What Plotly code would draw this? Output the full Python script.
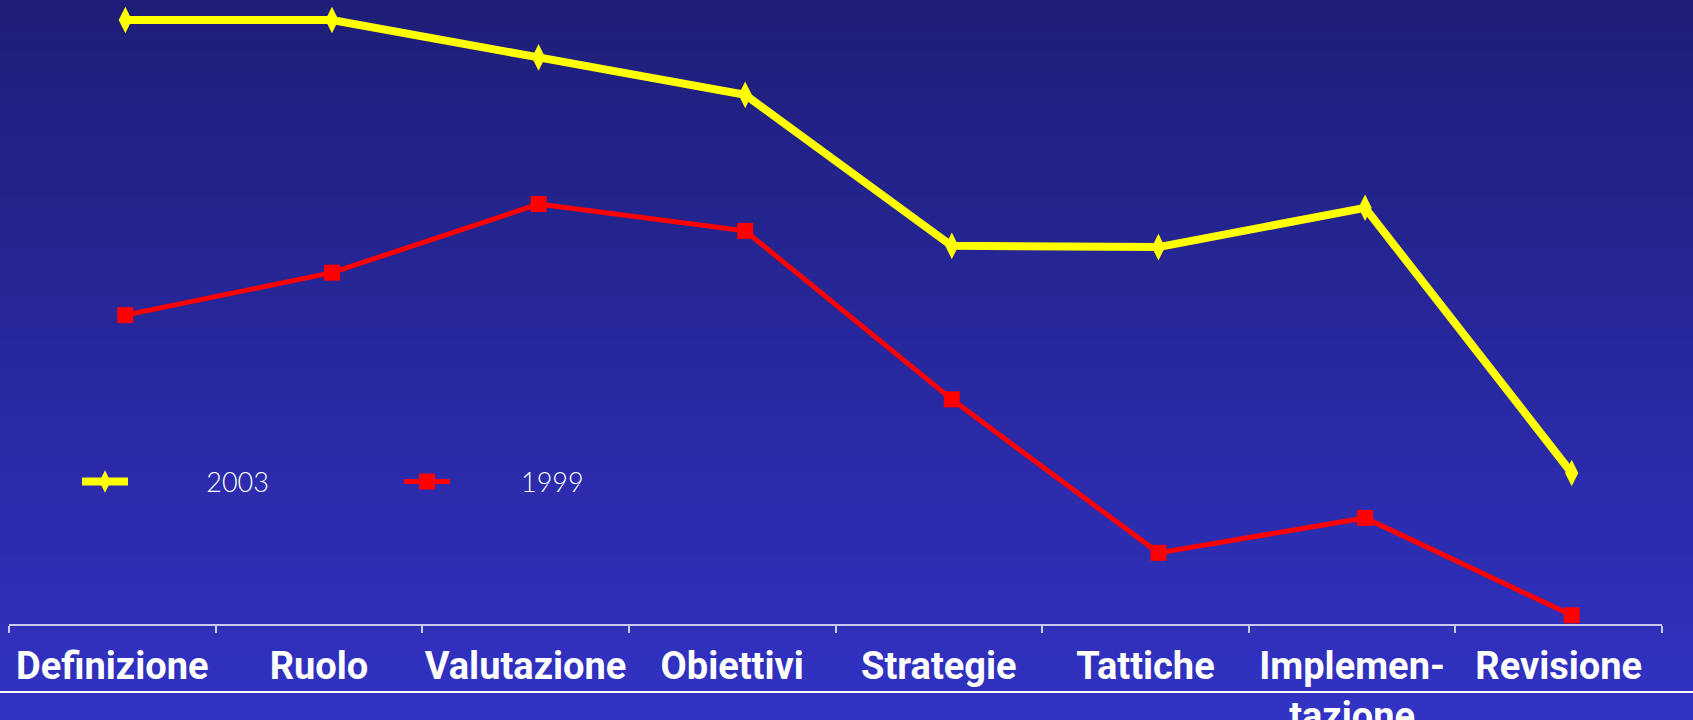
import numpy as np
import plotly.graph_objects as go

categories = ["Definizione", "Ruolo", "Valutazione", "Obiettivi", "Strategie",
              "Tattiche", "Implemen-<br>tazione", "Revisione"]
values_2003 = [96.8, 96.8, 90.8, 84.8, 60.6, 60.4, 66.7, 24.2]
values_1999 = [49.5, 56.3, 67.3, 63.0, 36.0, 11.4, 17.0, 1.4]
series_names = ["2003", "1999"]

W, H = 1693, 720
M_L, M_R, M_T, M_B = 9, 31, 0, 96
plot_h = H - M_T - M_B
plot_w = W - M_L - M_R
marker_shift = 0.063  # markers sit slightly right of category centres in the original
pad1 = "\u00a0" * 10
pad2 = "\u00a0" * 9

fig = go.Figure()

# Invisible trace that registers the categories on the labelled axis
fig.add_trace(go.Scatter(x=categories, y=[None] * len(categories), mode="lines",
                         showlegend=False, hoverinfo="skip", xaxis="x", yaxis="y"))

fig.add_trace(go.Scatter(
    x=categories, y=values_2003, name=pad1 + series_names[0], mode="lines+markers",
    line=dict(color="#FFFF00", width=8),
    marker=dict(symbol="diamond-tall", size=19, color="#FFFF00"),
    xaxis="x2", yaxis="y", cliponaxis=False, legend="legend"))
fig.add_trace(go.Scatter(
    x=categories, y=values_1999, name=pad2 + series_names[1], mode="lines+markers",
    line=dict(color="#FF0000", width=5),
    marker=dict(symbol="square", size=16, color="#FF0000"),
    xaxis="x2", yaxis="y", cliponaxis=False, legend="legend2"))

# Background gradient bands
top = np.array([30, 30, 120])
bot = np.array([50, 50, 196])
n_bands = 80
y_lo = -M_B / plot_h
y_hi = 1.0 + M_T / plot_h
shapes = []
for i in range(n_bands):
    t = (i + 0.5) / n_bands
    c = top + (bot - top) * t
    y1 = y_hi - (y_hi - y_lo) * i / n_bands
    y0 = y_hi - (y_hi - y_lo) * (i + 1) / n_bands
    shapes.append(dict(type="rect", xref="paper", yref="paper",
                       x0=-0.1, x1=1.1, y0=y0 - 0.002, y1=y1 + 0.002,
                       fillcolor="rgb(%d,%d,%d)" % tuple(c.round()),
                       line=dict(width=0), layer="below"))
# bottom white rule
rule_y = -(692 - (H - M_B)) / plot_h
shapes.append(dict(type="line", xref="paper", yref="paper",
                   x0=-0.1, x1=1.1, y0=rule_y, y1=rule_y,
                   line=dict(color="#FFFFFF", width=2), layer="above"))

axis_col = "#C8C8F0"
n = len(categories)
legend_font = dict(family="Lato, Open Sans, sans-serif", size=27, color="#FFFFFF", weight=300)
fig.update_layout(
    width=W, height=H,
    margin=dict(l=M_L, r=M_R, t=M_T, b=M_B, pad=0),
    paper_bgcolor="rgb(40,40,160)",
    plot_bgcolor="rgba(0,0,0,0)",
    shapes=shapes,
    showlegend=True,
    xaxis=dict(type="category", range=[-0.5, n - 0.5], tickson="boundaries",
               ticks="outside", ticklen=7, tickwidth=1.5, tickcolor=axis_col,
               showline=True, linecolor=axis_col, linewidth=1.5,
               showgrid=False, zeroline=False, tickangle=0, automargin=False,
               ticklabelstandoff=8,
               tickfont=dict(family="Roboto, Liberation Sans, sans-serif",
                             size=38, color="#FFFFFF", weight="bold"),
               fixedrange=True),
    xaxis2=dict(type="category", overlaying="x", visible=False,
                range=[-0.5 - marker_shift, n - 0.5 - marker_shift], fixedrange=True),
    yaxis=dict(range=[0, 100], visible=False, showgrid=False, zeroline=False,
               fixedrange=True, automargin=False),
    legend=dict(x=(77 - M_L) / plot_w, y=(624 - 482) / plot_h, xanchor="left", yanchor="middle",
                bgcolor="rgba(0,0,0,0)", itemwidth=46, font=legend_font),
    legend2=dict(x=(399 - M_L) / plot_w, y=(624 - 482) / plot_h, xanchor="left", yanchor="middle",
                 bgcolor="rgba(0,0,0,0)", itemwidth=46, font=legend_font),
    hovermode=False,
)

fig.write_html("out.html", config={"displayModeBar": False},
               post_script="document.body.style.margin='0';document.body.style.padding='0';"
                           "document.documentElement.style.overflow='hidden';")
